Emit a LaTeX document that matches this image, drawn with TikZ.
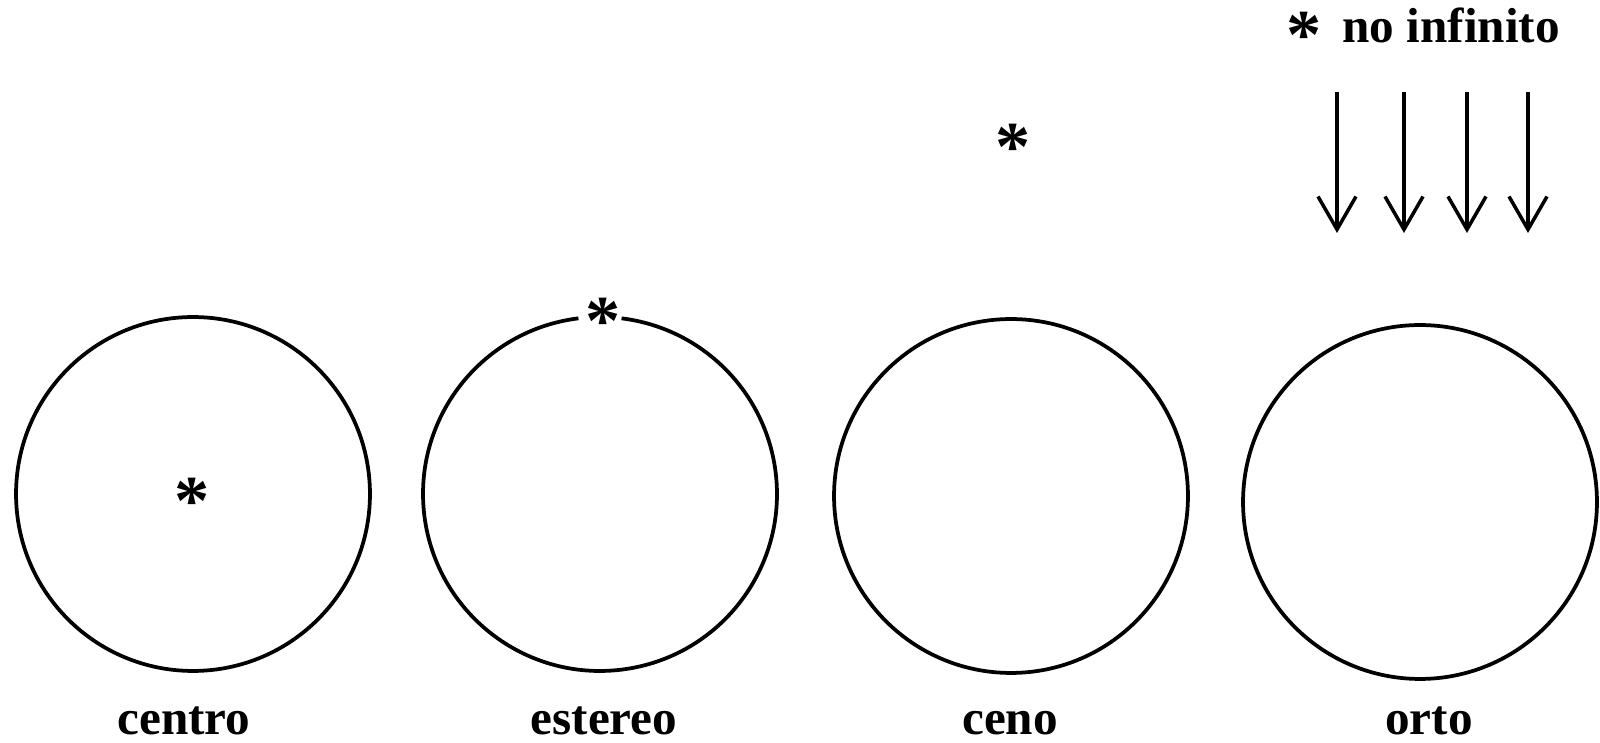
\documentclass[tikz,border=0pt]{standalone}
\usepackage{fontspec}
\setmainfont{Liberation Serif}
\usetikzlibrary{arrows.meta}

\begin{document}
\begin{tikzpicture}[x=0.02cm, y=0.02cm,
    ring/.style    = {draw, circle, line width = 0.075cm, minimum size = 7.08cm, inner sep = 0pt},
    astx/.style    = {anchor = base, inner sep = 0pt, font = \fontsize{40}{40}\selectfont\bfseries},
    tagtext/.style = {anchor = base, inner sep = 0pt, font = \fontsize{28}{30}\selectfont\bfseries},
    ray/.style     = {line width = 0.07cm, -{Straight Barb[length = 0.66cm, width = 0.76cm]}}]
  \useasboundingbox (0,0) rectangle (1600,743);

  % the four spheres
  \node[ring] (centro) at (193,249)  {};
  \coordinate (estereo) at (600,249);
  \node[ring] (ceno)   at (1011,247) {};
  \node[ring] (orto)   at (1420,241) {};
  \draw[line width = 0.075cm] ([shift={(97:3.54cm)}]estereo) arc[start angle = 97, end angle = 443, radius = 3.54cm];

  % projection points
  \node[astx] (pc) at (192,218)  {*};
  \node[astx] (pe) at (603,398)  {*};
  \node[astx] (pn) at (1013,572) {*};
  \node[astx] (po) at (1304,684) {*};
  \node[tagtext, anchor = base west] (inf) at (1342,700) {no infinito};

  % rays from infinity
  \foreach \x [count = \i] in {1337,1404,1467,1528} {
    \coordinate (t\i) at (\x,651);
    \coordinate (b\i) at (\x,510);
    \draw[ray] (t\i) -- (b\i);
  }

  % labels
  \node[tagtext] (lc) at (184,8)  {centro};
  \node[tagtext] (le) at (604,8)  {estereo};
  \node[tagtext] (ln) at (1010,8) {ceno};
  \node[tagtext] (lo) at (1429,8) {orto};
\end{tikzpicture}
\end{document}
